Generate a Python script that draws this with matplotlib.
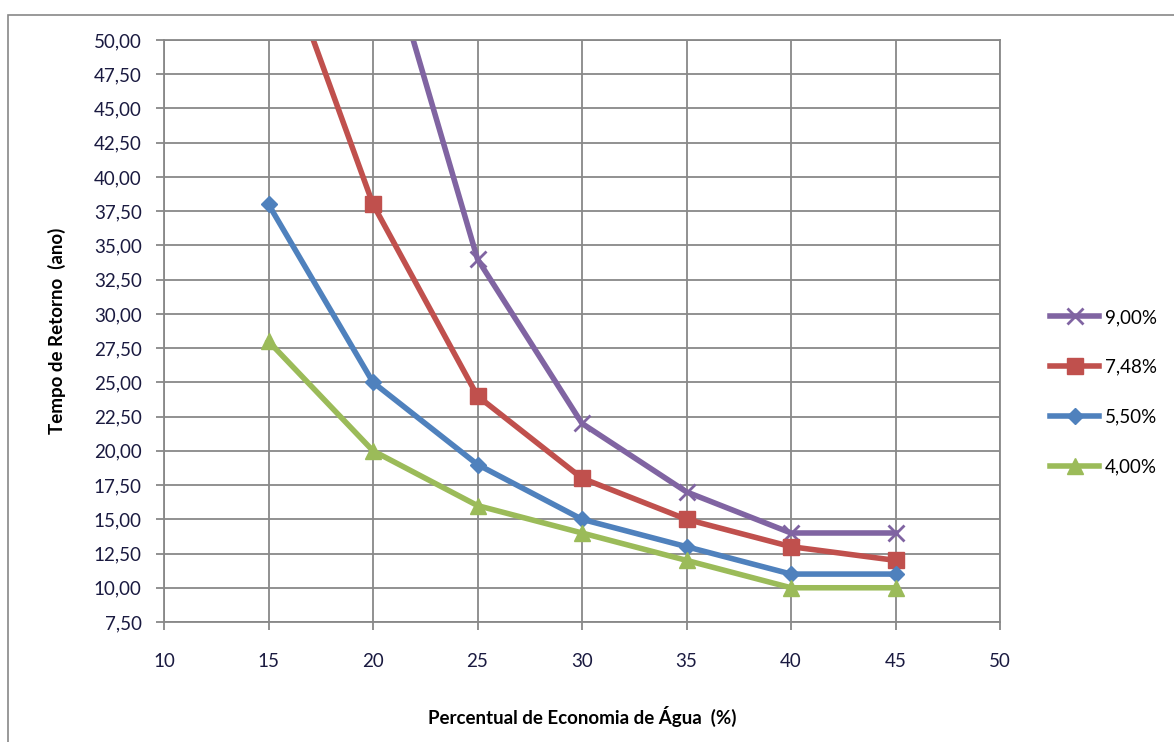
import matplotlib
matplotlib.use("Agg")
import matplotlib.pyplot as plt
from matplotlib.patches import Rectangle
from matplotlib.ticker import FuncFormatter, MultipleLocator

plt.rcParams['font.family'] = ['Lato', 'DejaVu Sans']

# data
economia = [15, 20, 25, 30, 35, 40, 45]
taxa_900 = [None, 60, 34, 22, 17, 14, 14]
taxa_748 = [59, 38, 24, 18, 15, 13, 12]
taxa_550 = [38, 25, 19, 15, 13, 11, 11]
taxa_400 = [28, 20, 16, 14, 12, 10, 10]

series = [
    ("9,00%", taxa_900, "#8064A2", "x", 11),
    ("7,48%", taxa_748, "#C0504D", "s", 12),
    ("5,50%", taxa_550, "#4F81BD", "D", 8),
    ("4,00%", taxa_400, "#9BBB59", "^", 12),
]

fig = plt.figure(figsize=(11.74, 7.42), dpi=100)
fig.patches.append(Rectangle((8 / 1174, -0.01), 1.2, 1 - 15 / 742 + 0.01,
                             transform=fig.transFigure, fill=False,
                             edgecolor="#888888", linewidth=1.2))
ax = fig.add_axes([164 / 1174, 1 - 622 / 742, 836 / 1174, 582 / 742])

for label, vals, color, marker, ms in series:
    xs = [x for x, v in zip(economia, vals) if v is not None]
    ys = [v for v in vals if v is not None]
    ax.plot(xs, ys, color=color, linewidth=4, marker=marker, markersize=ms,
            markeredgewidth=2 if marker == "x" else 1, markeredgecolor=color,
            label=label)

ax.set_xlim(10, 50)
ax.set_ylim(7.5, 50)
ax.xaxis.set_major_locator(MultipleLocator(5))
ax.yaxis.set_major_locator(MultipleLocator(2.5))
ax.yaxis.set_major_formatter(FuncFormatter(lambda v, p: f"{v:.2f}".replace(".", ",")))
ax.grid(True, color="#888888", linewidth=1.3)
ax.set_axisbelow(True)
for s in ax.spines.values():
    s.set_color("#888888")
    s.set_linewidth(1.3)
ax.tick_params(direction="out", length=6, width=1.3, color="#888888",
               labelsize=13.5, labelcolor="#1a1a40", pad=10)
ax.tick_params(axis="x", pad=16)

ax.set_xlabel("Percentual de Economia de Água  (%)", fontsize=13.5,
              fontweight="bold", labelpad=26)
ax.set_ylabel("Tempo de Retorno  (ano)", fontsize=13.5, fontweight="bold",
              labelpad=20)

ax.legend(loc="center left", bbox_to_anchor=(1.04, 0.395), frameon=False,
          fontsize=13.5, handlelength=2.6, labelspacing=1.75, handletextpad=0.3)

fig.savefig("out.png", dpi=100)
